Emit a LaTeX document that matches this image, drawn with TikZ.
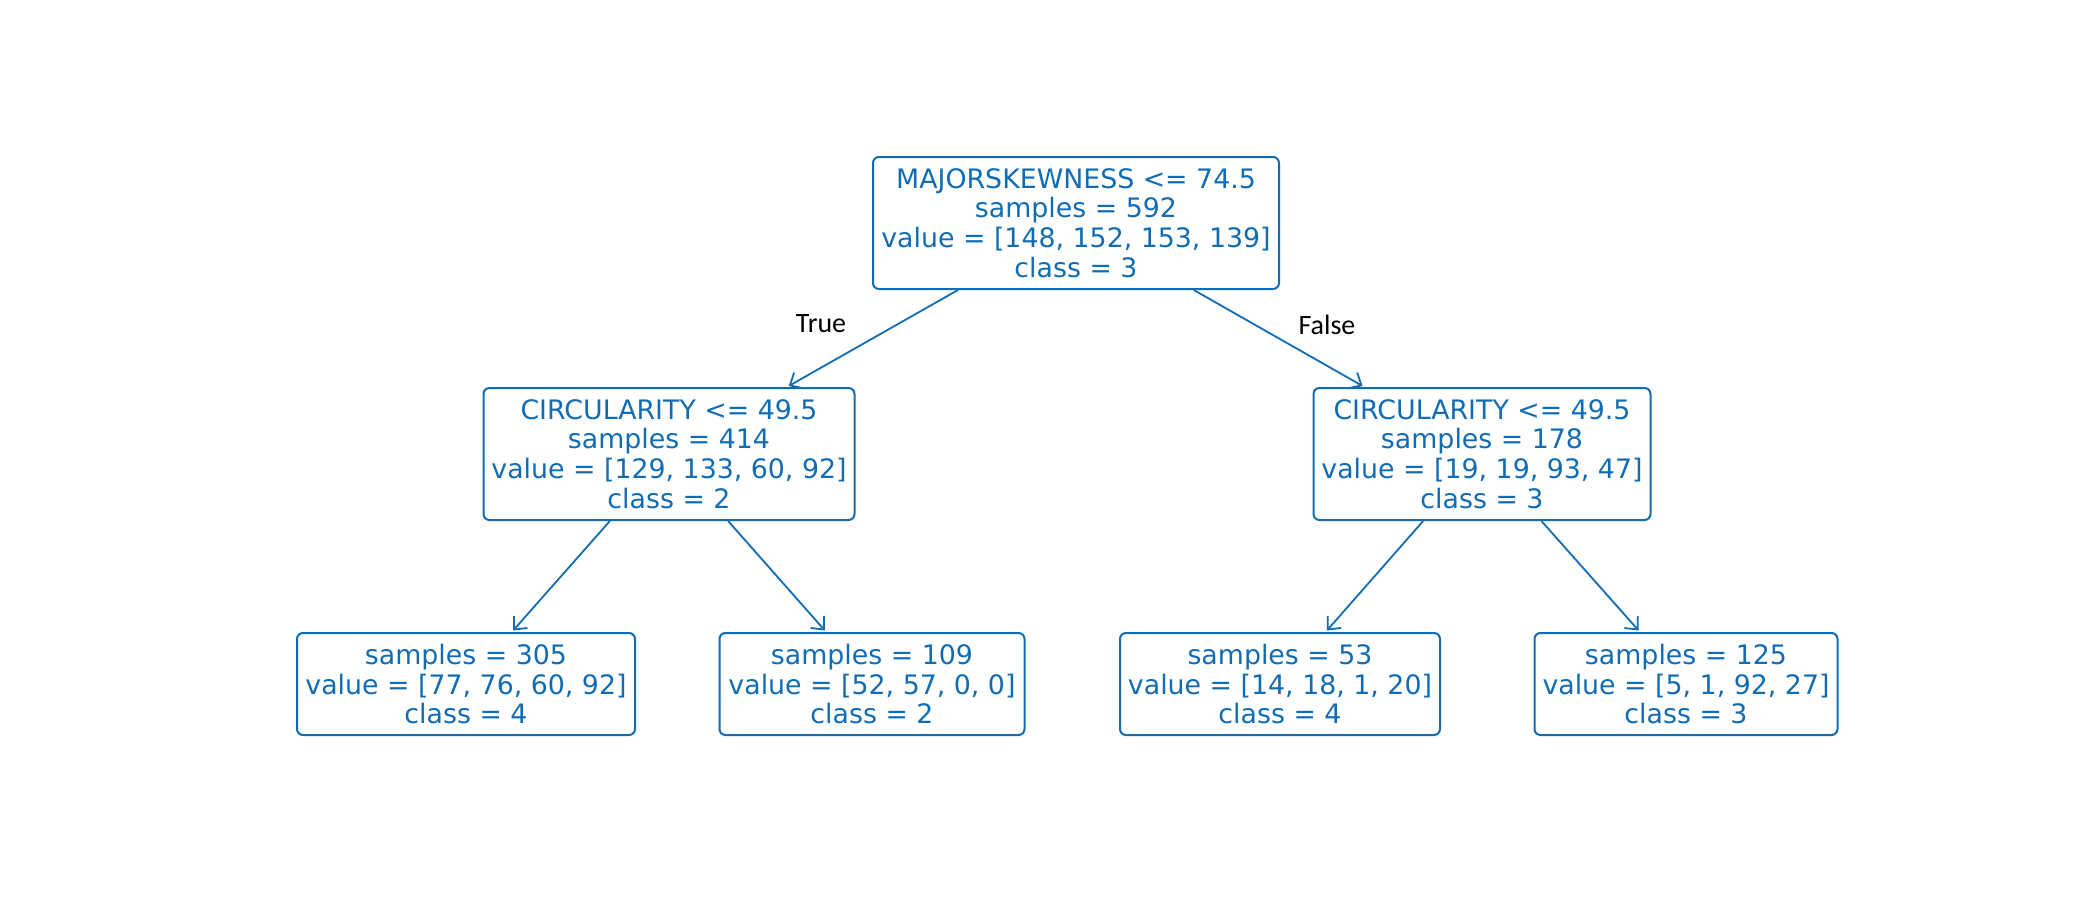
\documentclass[tikz,border=0pt]{standalone}
\usepackage{fontspec}
\setmainfont{DejaVu Sans}
\newfontfamily\labelfont{Carlito}
\usetikzlibrary{arrows.meta}
\definecolor{treeblue}{RGB}{17,108,180}
\begin{document}
\begin{tikzpicture}[x=0.5pt,y=-0.5pt,
  treebox/.style={draw=treeblue, line width=1pt, rounded corners=3pt, text=treeblue,
    align=center, font=\fontsize{13.4}{14.8}\selectfont, inner sep=0pt},
  edge/.style={draw=treeblue, line width=0.9pt, -{Straight Barb[length=5pt,width=9pt,line width=0.9pt]}, shorten >=1pt},
  edgelabel/.style={font=\labelfont\fontsize{14}{16}\selectfont, text=black, inner sep=0pt}]
\useasboundingbox (0,0) rectangle (2100,900);
\node[treebox, minimum width=203pt, minimum height=66pt] (root) at (1076,223)
  {MAJORSKEWNESS <= 74.5\\samples = 592\\value = [148, 152, 153, 139]\\class = 3};
\node[treebox, minimum width=185.5pt, minimum height=66pt] (lm) at (669,454)
  {CIRCULARITY <= 49.5\\samples = 414\\value = [129, 133, 60, 92]\\class = 2};
\node[treebox, minimum width=168.5pt, minimum height=66pt] (rm) at (1482,454)
  {CIRCULARITY <= 49.5\\samples = 178\\value = [19, 19, 93, 47]\\class = 3};
\node[treebox, minimum width=169pt, minimum height=51pt] (l1) at (466,684)
  {samples = 305\\value = [77, 76, 60, 92]\\class = 4};
\node[treebox, minimum width=152.5pt, minimum height=51pt] (l2) at (872,684)
  {samples = 109\\value = [52, 57, 0, 0]\\class = 2};
\node[treebox, minimum width=160pt, minimum height=51pt] (l3) at (1280,684)
  {samples = 53\\value = [14, 18, 1, 20]\\class = 4};
\node[treebox, minimum width=151.5pt, minimum height=51pt] (l4) at (1686,684)
  {samples = 125\\value = [5, 1, 92, 27]\\class = 3};
\draw[edge] (root) -- (lm);
\draw[edge] (root) -- (rm);
\draw[edge] (lm) -- (l1);
\draw[edge] (lm) -- (l2);
\draw[edge] (rm) -- (l3);
\draw[edge] (rm) -- (l4);
\node[edgelabel] (tl) at (821,324) {True};
\node[edgelabel] (fl) at (1327,325) {False};
\end{tikzpicture}
\end{document}
